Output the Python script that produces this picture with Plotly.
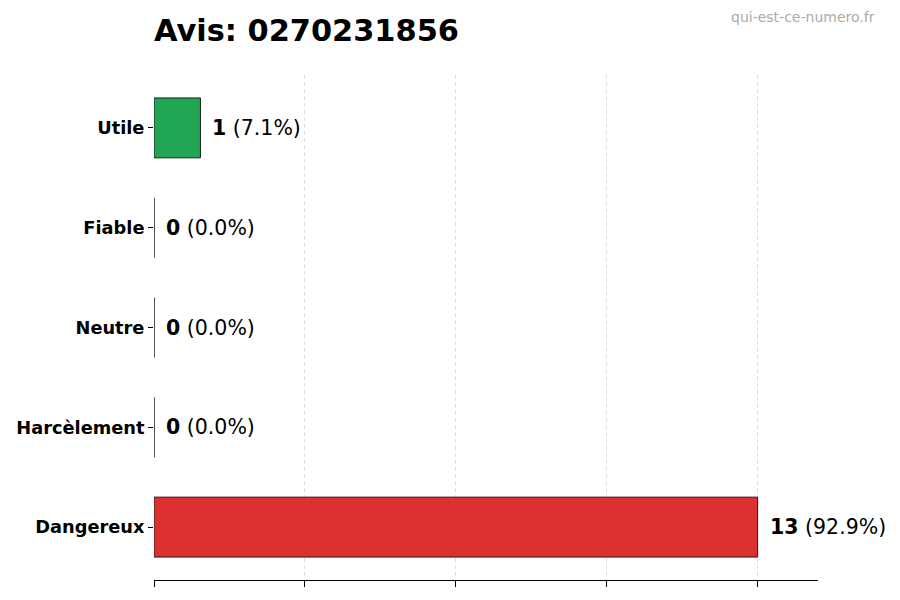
import plotly.graph_objects as go
import numpy as np

# Avis data (bottom to top as drawn)
categories = ["Dangereux", "Harcèlement", "Neutre", "Fiable", "Utile"]
counts = [13, 0, 0, 0, 1]
bar_colors = ["#dc2626", "#ea580c", "#6b7280", "#2563eb", "#16a34a"]
phone = "0270231856"

total = sum(counts)
pcts = [100 * c / total for c in counts]
xmax = max(counts) * 1.1

# page has an 8px body margin, so the figure is a bit smaller than the window
W, H = 892, 592
L, R, T, B = 146, 82, 67, 20
plot_w, plot_h = W - L - R, H - T - B

fig = go.Figure()
fig.add_trace(go.Bar(
    y=categories, x=counts, orientation="h",
    width=0.6,
    marker=dict(color=bar_colors, line=dict(color="#111111", width=1)),
    opacity=0.95,
    showlegend=False,
))

# value labels next to each bar
for cat, c, p in zip(categories, counts, pcts):
    fig.add_annotation(
        x=c, y=cat, xref="x", yref="y",
        text=f"<b>{c}</b> ({p:.1f}%)",
        showarrow=False, xanchor="left", yanchor="middle", xshift=10,
        font=dict(family="DejaVu Sans", size=20.5, color="black"),
    )

# watermark
fig.add_annotation(
    xref="paper", yref="paper",
    x=(869 - L) / plot_w, y=1 + (T - 9) / plot_h,
    xanchor="right", yanchor="middle",
    text="qui-est-ce-numero.fr", showarrow=False,
    font=dict(family="DejaVu Sans", size=14, color="#aaaaaa"),
)

fig.update_layout(
    width=W, height=H,
    margin=dict(l=L, r=R, t=T, b=B),
    plot_bgcolor="white", paper_bgcolor="white",
    title=dict(text=f"<b>Avis: {phone}</b>", x=L / W, xanchor="left",
               y=1 - 22 / H, yanchor="middle",
               font=dict(family="DejaVu Sans", size=30.4, color="black")),
)

fig.update_xaxes(
    range=[0, xmax],
    tickvals=np.linspace(0, max(counts), 5),
    showticklabels=False,
    ticks="outside", ticklen=6, tickcolor="black",
    showline=True, linecolor="black", linewidth=1,
    showgrid=True, gridcolor="#dddddd", griddash="4px,3px", gridwidth=1,
    zeroline=False, automargin=False,
)
fig.update_yaxes(
    categoryorder="array", categoryarray=categories,
    range=[-0.53, len(categories) - 1 + 0.53],
    ticks="outside", ticklen=5, tickcolor="black",
    showline=False, showgrid=False, zeroline=False, automargin=False,
    tickfont=dict(family="DejaVu Sans", size=17.8, color="black"),
    ticklabelstandoff=0,
    tickvals=categories, ticktext=[f"<b>{c}</b>" for c in categories],
)

fig.write_html("out.html")
